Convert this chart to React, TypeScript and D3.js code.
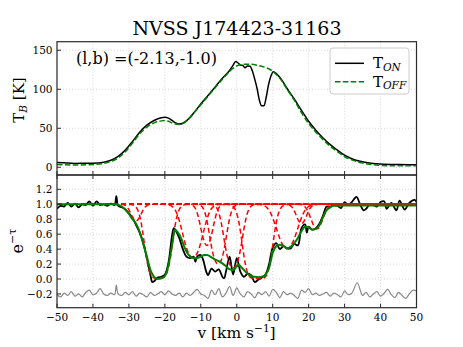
import * as d3 from "d3";

// top panel: brightness temperature on / off source
const tonV = [-50, -45, -40, -37, -35, -33, -31, -29, -27, -25, -23, -21, -20, -19, -18, -17, -16, -15, -14, -13, -12, -10, -8, -6, -4, -3, -2, -1, -0.3, 0.3, 1, 1.7, 2.3, 3, 3.7, 4.3, 5, 5.7, 6.3, 6.9, 7.6, 8.2, 8.8, 9.5, 10.2, 11, 12, 13, 14, 16, 18, 20, 22, 24, 26, 28, 30, 32, 34, 36, 38, 40, 45, 50];
const tonT = [6, 5, 5.2, 6.5, 9, 14, 22, 33, 45, 54, 60, 63.5, 64, 63, 60, 57, 55.5, 56.5, 59.5, 64, 69.5, 81, 92, 103, 114, 119, 124, 131, 135.5, 134, 131, 130.5, 127.5, 130, 129.5, 124, 113, 100, 86, 79, 79, 90, 105, 117, 122.5, 120, 115, 108.5, 101, 87.5, 73, 59, 47.5, 37.5, 29, 22, 15.5, 11, 8, 6, 4.8, 4.2, 3.5, 3.2];

const toffV = [-50, -45, -40, -37, -35, -33, -31, -29, -27, -25, -23, -21, -20, -19, -18, -17, -16, -15, -14, -13, -12, -10, -8, -6, -4, -3, -2, -1, 0, 1, 2, 4, 6, 8, 9, 10, 11, 12, 13, 14, 16, 18, 20, 22, 24, 26, 28, 30, 32, 34, 36, 38, 40, 45, 50];
const toffT = [3.5, 3, 3.5, 5, 7.5, 12, 20, 31, 43, 51.5, 57, 59.5, 60, 59, 57, 55.5, 55, 56, 59, 63.5, 69, 80, 91, 102, 113, 118, 123, 127, 130, 131.5, 132, 132, 130.5, 128, 126, 123, 119, 114, 107.5, 100, 86, 70, 56, 45, 35.5, 27, 20, 13.5, 9.5, 6.5, 4.5, 3.2, 2.5, 1.8, 1.8];

// bottom panel: absorption spectrum e^-tau
const absV = [-50, -49, -48, -47, -46, -45, -44, -43, -42, -41, -40, -39, -38, -37, -36, -35, -34, -33.5, -33, -32, -31, -30, -29, -28, -27, -26, -25, -24, -23.5, -23, -22, -21, -20, -19, -18, -17.5, -17, -16, -15, -14, -13, -12, -11.5, -11, -10, -9.3, -8.5, -8, -7, -6, -5, -4, -3.5, -3, -2, -1.5, -1, 0, 0.5, 1, 2, 3, 4, 5, 6, 7, 8, 9, 10, 11, 12, 13, 14, 15, 16, 17, 18, 19, 19.5, 20, 21, 22, 23, 24, 25, 26, 27, 28, 29, 30, 31, 32, 33.3, 34.3, 35.3, 36, 37, 38, 39, 40, 41, 41.7, 43, 44.4, 45.3, 46.7, 48, 49.5, 50];
const absE = [0.94, 0.98, 0.97, 1.02, 0.97, 1.01, 0.96, 1.0, 0.99, 1.04, 0.98, 1.04, 0.99, 1.0, 0.98, 1.01, 0.99, 1.11, 0.98, 0.96, 0.93, 0.88, 0.82, 0.72, 0.62, 0.48, 0.28, 0.05, -0.04, -0.03, 0.02, 0.03, 0.06, 0.22, 0.58, 0.68, 0.65, 0.55, 0.4, 0.3, 0.28, 0.3, 0.23, 0.3, 0.32, 0.25, 0.1, 0.05, 0.14, 0.1, 0.13, 0.03, 0.01, 0.1, 0.3, 0.18, 0.06, 0.28, 0.2, 0.1, 0.03, 0.07, 0.05, -0.04, -0.01, 0.02, 0.06, 0.2, 0.42, 0.48, 0.4, 0.44, 0.41, 0.41, 0.47, 0.45, 0.68, 0.73, 0.62, 0.7, 0.66, 0.68, 0.74, 0.85, 0.97, 0.97, 0.99, 0.98, 0.95, 1.03, 0.99, 1.03, 1.1, 1.0, 0.92, 0.94, 1.0, 0.99, 0.97, 1.03, 1.04, 0.94, 1.02, 0.92, 1.05, 0.93, 1.02, 1.06, 1.03];

const fitV = [-50, -34, -33, -32, -31, -30, -29, -28, -27, -26, -25, -24, -23, -22, -21, -20, -19, -18, -17.2, -16.5, -15.5, -14.5, -13.5, -12, -11, -10, -9, -8.3, -7, -6, -5, -4, -3, -2, -1, 0, 0.5, 1, 2, 3, 4, 5, 6, 7, 8, 9, 10, 11, 12, 13, 14, 15, 16, 17, 18, 19, 20, 21, 22, 23, 24, 25, 26, 27, 30, 50];
const fitE = [1.0, 1.0, 0.995, 0.97, 0.93, 0.87, 0.8, 0.74, 0.63, 0.47, 0.3, 0.12, 0.03, 0.0, 0.01, 0.04, 0.18, 0.45, 0.66, 0.63, 0.55, 0.42, 0.33, 0.28, 0.28, 0.3, 0.32, 0.32, 0.29, 0.26, 0.24, 0.21, 0.17, 0.13, 0.12, 0.17, 0.19, 0.17, 0.12, 0.07, 0.04, 0.03, 0.025, 0.03, 0.06, 0.15, 0.35, 0.44, 0.46, 0.44, 0.41, 0.43, 0.48, 0.55, 0.64, 0.7, 0.69, 0.66, 0.67, 0.72, 0.83, 0.92, 0.96, 0.98, 0.985, 0.985];

// residuals, plotted with an offset of -0.2
const resV = [-50, -49, -48, -47, -46, -45, -44, -43, -42, -41, -40, -39, -38, -37, -36, -35, -34, -33.5, -33, -32, -31, -30, -29, -28, -27, -26, -25, -24, -23, -22, -21, -20, -19, -18, -17, -16, -15, -14, -13, -12, -11, -10, -9, -8, -7, -6, -5, -4, -3, -2, -1, 0, 1, 2, 3, 4, 5, 6, 7, 8, 9, 10, 11, 12, 13, 14, 15, 16, 17, 18, 19, 20, 21, 22, 23, 24, 25, 26, 27, 28, 29, 30, 31, 32, 33.5, 34.5, 35, 36, 37, 38, 39, 40, 41, 42, 43, 44, 45, 46, 47, 48, 49, 50];
const resE = [-0.21, -0.24, -0.19, -0.22, -0.17, -0.23, -0.2, -0.24, -0.18, -0.15, -0.21, -0.19, -0.13, -0.2, -0.22, -0.19, -0.21, -0.08, -0.2, -0.22, -0.18, -0.21, -0.17, -0.23, -0.19, -0.21, -0.24, -0.18, -0.22, -0.2, -0.17, -0.21, -0.16, -0.2, -0.22, -0.19, -0.24, -0.19, -0.22, -0.18, -0.14, -0.2, -0.22, -0.26, -0.15, -0.21, -0.13, -0.24, -0.19, -0.1, -0.22, -0.12, -0.2, -0.24, -0.17, -0.2, -0.25, -0.18, -0.21, -0.17, -0.23, -0.14, -0.18, -0.25, -0.17, -0.21, -0.19, -0.22, -0.26, -0.15, -0.18, -0.13, -0.21, -0.19, -0.22, -0.2, -0.18, -0.23, -0.19, -0.21, -0.24, -0.16, -0.21, -0.19, -0.05, -0.17, -0.22, -0.18, -0.24, -0.2, -0.17, -0.23, -0.19, -0.14, -0.21, -0.25, -0.18, -0.22, -0.26, -0.2, -0.15, -0.16];

// gaussian components of the fit
const compCenter = [-28, -21.8, -12.2, -8.3, -5.2, -1.0, 5.8, 14.0, 18.0, 22.3];
const compTau = [0.25, 5.0, 1.25, 0.8, 1.6, 1.9, 6.0, 0.9, 0.3, 0.4];
const compSigma = [1.3, 2.0, 2.1, 1.4, 1.6, 1.7, 2.1, 2.3, 1.3, 1.5];

const xTicks = [-50, -40, -30, -20, -10, 0, 10, 20, 30, 40, 50];
const tbTicks = [0, 50, 100, 150];
const eTicks = [-0.2, 0, 0.2, 0.4, 0.6, 0.8, 1.0, 1.2];

const FONT = "DejaVu Serif";

const fmt = (v: number) => (v < 0 ? "\u2212" + Math.abs(v) : String(v));

export default function App() {
  const x = d3.scaleLinear().domain([-50, 50]).range([57, 416.5]);
  const yT = d3.scaleLinear().domain([-9.9, 161]).range([175, 41.7]);
  const yE = d3.scaleLinear().domain([-0.384, 1.392]).range([307.7, 175]);

  const [x0, x1] = x.range();
  const topY0 = yT.range()[1];
  const topY1 = yT.range()[0];
  const botY0 = yE.range()[1];
  const botY1 = yE.range()[0];

  const lineT = d3
    .line<[number, number]>()
    .x((d) => x(d[0]))
    .y((d) => yT(d[1]))
    .curve(d3.curveMonotoneX);
  const lineE = d3
    .line<[number, number]>()
    .x((d) => x(d[0]))
    .y((d) => yE(d[1]))
    .curve(d3.curveMonotoneX);
  const lineNoisy = d3
    .line<[number, number]>()
    .x((d) => x(d[0]))
    .y((d) => yE(d[1]))
    .curve(d3.curveCatmullRom.alpha(0.5));

  const zip = (a: number[], b: number[]) => a.map((v, i) => [v, b[i]] as [number, number]);

  const vGrid = d3.range(-50, 50.001, 0.1);
  const comps = compCenter.map((c, i) =>
    vGrid.map((v) => [v, Math.exp(-compTau[i] * Math.exp(-((v - c) ** 2) / (2 * compSigma[i] ** 2)))] as [number, number])
  );

  const gridStyle = { stroke: "#cfcfcf", strokeWidth: 0.8, strokeDasharray: "1,2" };
  const frame = "#2a2a2a";

  return (
    <svg width={463} height={347} style={{ position: "absolute", left: 0, top: 0, background: "#fff" }} fontFamily={FONT}>
      <style>{"body{margin:0}"}</style>
      <defs>
        <clipPath id="clipTop">
          <rect x={x0} y={topY0} width={x1 - x0} height={topY1 - topY0} />
        </clipPath>
        <clipPath id="clipBot">
          <rect x={x0} y={botY0} width={x1 - x0} height={botY1 - botY0} />
        </clipPath>
      </defs>

      <text x={237} y={35} textAnchor="middle" fontSize={19}>
        NVSS J174423-31163
      </text>

      {/* top panel */}
      <g>
        {xTicks.map((t) => (
          <line key={"gt" + t} x1={x(t)} x2={x(t)} y1={topY0} y2={topY1} {...gridStyle} />
        ))}
        {tbTicks.map((t) => (
          <line key={"gty" + t} x1={x0} x2={x1} y1={yT(t)} y2={yT(t)} {...gridStyle} />
        ))}
        <g clipPath="url(#clipTop)">
          <path d={lineT(zip(tonV, tonT)) || ""} fill="none" stroke="#000" strokeWidth={1.5} />
          <path d={lineT(zip(toffV, toffT)) || ""} fill="none" stroke="#008000" strokeWidth={1.5} strokeDasharray="5.5,2.4" />
        </g>
        {xTicks.map((t) => (
          <line key={"tt" + t} x1={x(t)} x2={x(t)} y1={topY1} y2={topY1 - 4} stroke={frame} />
        ))}
        {tbTicks.map((t) => (
          <g key={"ty" + t}>
            <line x1={x0} x2={x0 + 4} y1={yT(t)} y2={yT(t)} stroke={frame} />
            <text x={x0 - 4.5} y={yT(t)} dy="0.35em" textAnchor="end" fontSize={10.5}>
              {fmt(t)}
            </text>
          </g>
        ))}
        <rect x={x0} y={topY0} width={x1 - x0} height={topY1 - topY0} fill="none" stroke={frame} strokeWidth={1.2} />
        <text x={76} y={64} fontSize={16}>
          (l,b) =(-2.13,-1.0)
        </text>
        <text transform={`translate(24,100) rotate(-90)`} textAnchor="middle" fontSize={15}>
          T<tspan fontStyle="italic" fontSize={10.5} dy={3}>B</tspan>
          <tspan dy={-3}> [K]</tspan>
        </text>

        {/* legend */}
        <rect x={330} y={48} width={79} height={46} rx={3} fill="#fff" fillOpacity={0.8} stroke="#cccccc" />
        <line x1={335} x2={364} y1={63.3} y2={63.3} stroke="#000" strokeWidth={1.5} />
        <line x1={335} x2={364} y1={81.7} y2={81.7} stroke="#008000" strokeWidth={1.5} strokeDasharray="5.5,2.4" />
        <text x={373} y={68} fontSize={15}>
          T<tspan fontStyle="italic" fontSize={10.5} dy={2.5}>ON</tspan>
        </text>
        <text x={373} y={86.5} fontSize={15}>
          T<tspan fontStyle="italic" fontSize={10.5} dy={2.5}>OFF</tspan>
        </text>
      </g>

      {/* bottom panel */}
      <g>
        {xTicks.map((t) => (
          <line key={"gb" + t} x1={x(t)} x2={x(t)} y1={botY0} y2={botY1} {...gridStyle} />
        ))}
        {eTicks.map((t) => (
          <line key={"gby" + t} x1={x0} x2={x1} y1={yE(t)} y2={yE(t)} {...gridStyle} />
        ))}
        <g clipPath="url(#clipBot)">
          <path d={lineNoisy(zip(absV, absE)) || ""} fill="none" stroke="#000" strokeWidth={1.8} />
          {comps.map((c, i) => (
            <path key={"c" + i} d={lineE(c) || ""} fill="none" stroke="#ff0000" strokeWidth={1.5} strokeDasharray="5,3" />
          ))}
          <path d={lineE(zip(fitV, fitE)) || ""} fill="none" stroke="#008000" strokeWidth={2} />
          <path d={lineNoisy(zip(resV, resE)) || ""} fill="none" stroke="#888888" strokeWidth={1.2} />
        </g>
        {xTicks.map((t) => (
          <g key={"bt" + t}>
            <line x1={x(t)} x2={x(t)} y1={botY1} y2={botY1 - 4} stroke={frame} />
            <line x1={x(t)} x2={x(t)} y1={botY0} y2={botY0 + 4} stroke={frame} />
            <text x={x(t)} y={320.5} textAnchor="middle" fontSize={10.5}>
              {fmt(t)}
            </text>
          </g>
        ))}
        {eTicks.map((t) => (
          <g key={"by" + t}>
            <line x1={x0} x2={x0 + 4} y1={yE(t)} y2={yE(t)} stroke={frame} />
            <text x={x0 - 4.5} y={yE(t)} dy="0.35em" textAnchor="end" fontSize={10.5}>
              {fmt(Math.round(t * 10) / 10).replace(/^(\u2212?\d)$/, "$1.0")}
            </text>
          </g>
        ))}
        <rect x={x0} y={botY0} width={x1 - x0} height={botY1 - botY0} fill="none" stroke={frame} strokeWidth={1.2} />
        <text transform={`translate(23,241) rotate(-90)`} textAnchor="middle" fontSize={16}>
          e<tspan fontSize={11} dy={-7}>{"\u2212\u03c4"}</tspan>
        </text>
        <text x={236.5} y={338} textAnchor="middle" fontSize={15.5}>
          v [km s<tspan fontSize={10.5} dy={-6}>{"\u22121"}</tspan>
          <tspan dy={6}>]</tspan>
        </text>
      </g>
    </svg>
  );
}
